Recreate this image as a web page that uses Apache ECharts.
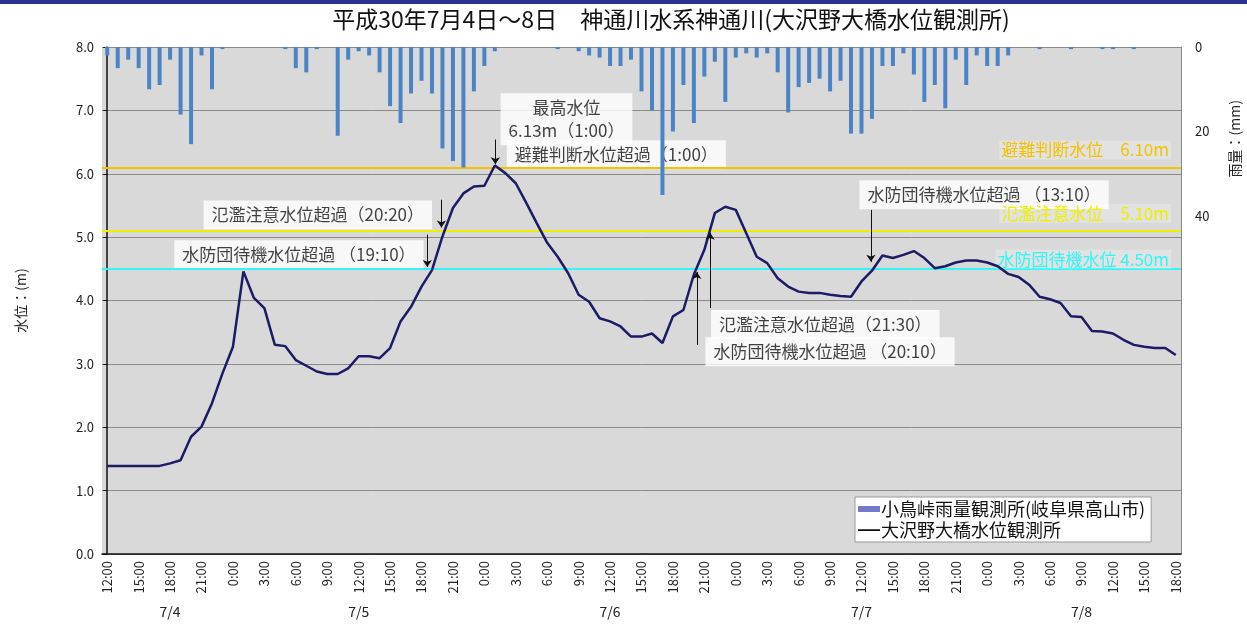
<!DOCTYPE html>
<html><head><meta charset="utf-8">
<script src="https://cdn.jsdelivr.net/npm/echarts@6/dist/echarts.min.js"></script>
<style>html,body{margin:0;padding:0;background:#fff;}#c{width:1247px;height:627px;}</style>
</head><body><div id="c"></div>
<script>
// ---- data ----
const days = ['7/4', '7/5', '7/6', '7/7', '7/8'];
const startHour = 12;          // first category: 7/4 12:00
const hourCount = 103;         // through 7/8 18:00
const hours = [];
const dayOfHour = [];
for (let i = 0; i < hourCount; i++) {
  hours.push(((startHour + i) % 24) + ':00');
  dayOfHour.push(days[Math.floor((startHour + i) / 24)]);
}
// 大沢野大橋 water level (m), hourly
const waterLevel = [
  1.39,1.39,1.39,1.39,1.39,1.39,1.43,1.48,1.85,2.01,2.38,2.85,
  3.27,4.46,4.04,3.88,3.30,3.28,3.06,2.97,2.88,2.84,2.84,2.93,
  3.12,3.12,3.09,3.25,3.67,3.90,4.22,4.48,5.01,5.46,5.69,5.80,
  5.81,6.13,6.01,5.85,5.54,5.22,4.91,4.69,4.43,4.09,3.98,3.72,
  3.67,3.59,3.43,3.43,3.48,3.33,3.75,3.85,4.41,4.80,5.38,5.48,
  5.43,5.06,4.69,4.59,4.35,4.22,4.14,4.12,4.12,4.09,4.07,4.06,
  4.30,4.47,4.71,4.67,4.72,4.78,4.67,4.51,4.54,4.60,4.63,4.63,
  4.60,4.54,4.42,4.37,4.25,4.06,4.02,3.96,3.75,3.74,3.52,3.51,
  3.48,3.38,3.30,3.27,3.25,3.25,3.14
];
// 小鳥峠 hourly rainfall (mm)
const rainfall = [
  2,5,3,5,10,9,3,16,23,2,10,0.5,
  0,0,0,0,0,0.5,5,6,0.5,0,21,3,
  1,2,6,14,18,11,8,11,24,27,28.5,10.5,
  4.5,1,0,0,0,0,0,0.5,0,1,2,2.5,
  4.5,4.5,3,10.5,15,35,20,9,18,7,3.5,13,
  2.5,1.5,2.5,1.5,6,15.5,9.5,8.5,7.5,10.5,8,20.5,
  20.5,17,4.5,4.5,1.5,6.5,13,9,14.5,3,9,2,
  4.5,4.5,2,0,0,0.5,0,0,0.5,0,0,0.5,
  0.5,0,0.5,0,0,0,0
];
const levelNames = ['避難判断水位　', '氾濫注意水位　', '水防団待機水位 '];
const levelValues = [6.10, 5.10, 4.50];
const leftTicks = [0,1,2,3,4,5,6,7,8];
const rainTickLabels = [0, 20, 40];

// annotation texts: [text, hourIndex, level]
const notes = [
  ['最高水位\n6.13m（1:00）', 43.84, 6.86],
  ['避難判断水位超過（1:00）', 48.6, 6.30],
  ['氾濫注意水位超過（20:20）', 20.1, 5.35],
  ['水防団待機水位超過 （19:10）', 18.3, 4.72],
  ['水防団待機水位超過 （13:10）', 83.7, 5.67],
  ['氾濫注意水位超過（21:30）', 68.55, 3.62],
  ['水防団待機水位超過 （20:10）', 69.0, 3.19]
];
// arrows: [fromHour, fromLevel, toHour, toLevel]
const arrows = [
  [37.05, 6.54, 37.05, 6.15],
  [31.9, 5.59, 31.9, 5.15],
  [30.55, 5.04, 30.55, 4.53],
  [72.9, 5.43, 72.9, 4.61],
  [57.55, 3.88, 57.55, 5.07],
  [56.28, 3.30, 56.28, 4.45]
];

// ---- derived ----
const dateRow = hours.map(() => '');
days.forEach(d => {
  const idx = [];
  dayOfHour.forEach((v, i) => { if (v === d) idx.push(i); });
  const c = Math.round(idx.reduce((a, b) => a + b, 0) / idx.length);
  dateRow[c] = d;
});

const FONT = 'Noto Sans CJK JP';
const levelColors = ['#f2c200', '#eeee00', '#33f5f5'];
const levelLabelDist = [[10, 8], [10, 8], [10, 0]];

const chart = echarts.init(document.getElementById('c'), null, {renderer: 'canvas'});
chart.setOption({
  animation: false,
  backgroundColor: '#ffffff',
  textStyle: {fontFamily: FONT},
  title: {
    text: '平成30年7月4日～8日　神通川水系神通川(大沢野大橋水位観測所)',
    left: 666, top: 3, textAlign: 'center',
    textStyle: {fontSize: 23, fontWeight: 'normal', color: '#111', fontFamily: FONT}
  },
  graphic: [
    {type: 'rect', left: 0, top: 0, shape: {width: 1247, height: 4}, style: {fill: '#2f3192'}},
    {type: 'text', left: 1228, top: 100, rotation: Math.PI / 2,
     style: {text: '雨量：(mm)', font: '14px "Noto Sans CJK JP"', fill: '#222'}}
  ],
  grid: {left: 102, right: 66, top: 47, bottom: 73, show: true, backgroundColor: '#d9d9d9', borderWidth: 0},
  legend: {
    orient: 'vertical', left: 855, top: 497,
    backgroundColor: '#ffffff', borderColor: '#9a9a9a', borderWidth: 1,
    padding: [3, 6, 3, 3], itemGap: 3, itemWidth: 22, itemHeight: 6,
    textStyle: {fontSize: 18, color: '#111', fontFamily: FONT, padding: [0, 0, 0, -4]},
    data: [
      {name: '小鳥峠雨量観測所(岐阜県高山市)', icon: 'rect', itemStyle: {color: '#7479c9'}},
      {name: '大沢野大橋水位観測所',
       icon: 'path://M0,2.2h22v1.8H0z M0,0h0.01v0.01H0z M0,6h0.01v0.01H0z',
       itemStyle: {color: '#111'}}
    ]
  },
  xAxis: [
    {type: 'category', data: hours, boundaryGap: true,
     axisLine: {lineStyle: {color: '#111', width: 1.5}}, axisTick: {show: false},
     axisLabel: {interval: 2, rotate: 90, fontSize: 13, color: '#222', margin: 7, fontFamily: FONT},
     splitLine: {show: false}},
    {type: 'category', data: dateRow, boundaryGap: true, position: 'bottom',
     axisLine: {show: false}, axisTick: {show: false},
     axisLabel: {interval: 0, fontSize: 14, color: '#222', margin: 51, fontFamily: FONT},
     splitLine: {show: false}},
    {type: 'value', min: -0.5, max: hourCount - 0.5, show: false}
  ],
  yAxis: [
    {type: 'value', min: leftTicks[0], max: leftTicks[leftTicks.length - 1], interval: 1,
     name: '水位：(m)', nameLocation: 'middle', nameGap: 74, nameRotate: 90,
     nameTextStyle: {fontSize: 14, color: '#222', fontFamily: FONT},
     axisLine: {show: true, lineStyle: {color: '#111', width: 1.5}},
     axisTick: {show: true, length: 4, lineStyle: {color: '#111'}},
     axisLabel: {formatter: v => v.toFixed(1), fontSize: 13, color: '#222', margin: 8, fontFamily: FONT},
     splitLine: {show: true, lineStyle: {color: '#8a8a8a', width: 1}}},
    {type: 'value', min: 0, max: 120, interval: 20, inverse: true, position: 'right',
     axisLine: {show: true, lineStyle: {color: '#8a8a8a', width: 1}},
     axisTick: {show: false},
     axisLabel: {formatter: v => rainTickLabels.indexOf(v) >= 0 ? String(v) : '',
                 fontSize: 13, color: '#222', margin: 14, fontFamily: FONT},
     splitLine: {show: false}}
  ],
  series: [
    {name: '小鳥峠雨量観測所(岐阜県高山市)', type: 'bar', xAxisIndex: 0, yAxisIndex: 1,
     data: rainfall, barWidth: 4, z: 4,
     itemStyle: {color: '#4a84c6'}},
    {name: '大沢野大橋水位観測所', type: 'line', xAxisIndex: 0, yAxisIndex: 0,
     data: waterLevel, symbol: 'none', z: 6,
     lineStyle: {color: '#1b1b66', width: 2.5}, itemStyle: {color: '#1b1b66'},
     markLine: {
       silent: true, symbol: 'none', z: 3,
       data: levelValues.map((v, k) => ({
         yAxis: v,
         lineStyle: {color: levelColors[k], width: 2, type: 'solid'},
         label: {show: true, position: 'insideEndTop', distance: levelLabelDist[k],
                 formatter: levelNames[k] + v.toFixed(2) + 'm',
                 color: levelColors[k], fontSize: 17, fontFamily: FONT,
                 backgroundColor: 'rgba(255,255,255,0.25)', padding: [1, 2]}
       }))
     }},
    {name: 'notes', type: 'scatter', xAxisIndex: 2, yAxisIndex: 0, symbolSize: 0, z: 2, silent: true,
     data: notes.map(n => ({value: [n[1], n[2]],
       label: {show: true, position: 'inside', formatter: n[0], color: '#111', fontSize: 17,
               lineHeight: 23, fontFamily: FONT, backgroundColor: '#ffffff', padding: [3, 8]}})),
     markLine: {
       silent: true, symbol: ['none', 'arrow'], symbolSize: 7, z: 7,
       lineStyle: {color: '#111', width: 1, type: 'solid'},
       label: {show: false},
       data: arrows.map(a => [{coord: [a[0], a[1]]}, {coord: [a[2], a[3]]}])
     }}
  ]
});
</script></body></html>
